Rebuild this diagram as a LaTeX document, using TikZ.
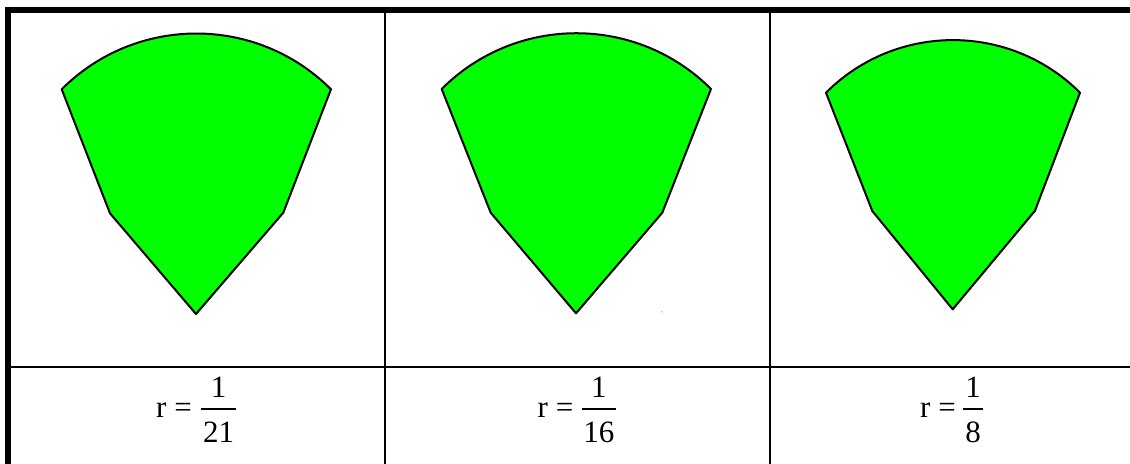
\documentclass[tikz,border=0pt]{standalone}
\usepackage{fontspec}
\setmainfont{Liberation Serif}
\definecolor{leaf}{RGB}{0,255,0}
\begin{document}
\begin{tikzpicture}[x=1bp,y=-1bp,
  petal/.style={fill=leaf,draw=black,line width=2bp,line join=round},
  border/.style={line width=6bp},
  rule/.style={line width=2.2bp},
  fracbar/.style={line width=1.8bp},
  lbl/.style={font=\fontsize{31bp}{37bp}\selectfont,inner sep=0pt}]
\useasboundingbox (0,0) rectangle (1130,464);
\fill[white] (0,0) rectangle (1130,464);
% table rules
\draw[rule] (385,10) -- (385,464);
\draw[rule] (770,10) -- (770,464);
\draw[rule] (8,367) -- (1130,367);
\draw[border] (5,9.8) -- (1130,9.8);
\draw[border] (8,7) -- (8,464);
% shapes
\draw[petal] (61.7,89.3) arc[start angle=225,end angle=315,radius=190.4]
  -- (283.3,212.7) -- (196,314) -- (110,213.3) -- cycle;
\draw[petal] (441.7,89) arc[start angle=225,end angle=315,radius=190.4]
  -- (662.3,212.7) -- (576,313.3) -- (490.7,212.7) -- cycle;
\draw[petal] (826,92.7) arc[start angle=225,end angle=315,radius=179.6]
  -- (1035,210.7) -- (952.7,309.3) -- (872.3,211) -- cycle;
\fill[gray!35] (661.7,311.7) circle[radius=1.2];
% labels
\node[lbl,anchor=base west] (r1) at (156,418) {r =};
\node[lbl,anchor=base] (n1) at (218.5,397.7) {1};
\node[lbl,anchor=base] (d1) at (218.5,442.7) {21};
\draw[fracbar] (201,409.3) -- (236,409.3);
\node[lbl,anchor=base west] (r2) at (537.5,418) {r =};
\node[lbl,anchor=base] (n2) at (598.8,397.7) {1};
\node[lbl,anchor=base] (d2) at (598.8,442.7) {16};
\draw[fracbar] (581.7,409.3) -- (616,409.3);
\node[lbl,anchor=base west] (r3) at (920,418) {r =};
\node[lbl,anchor=base] (n3) at (973,397.7) {1};
\node[lbl,anchor=base] (d3) at (973,442.7) {8};
\draw[fracbar] (963,409.3) -- (983,409.3);
\end{tikzpicture}
\end{document}
